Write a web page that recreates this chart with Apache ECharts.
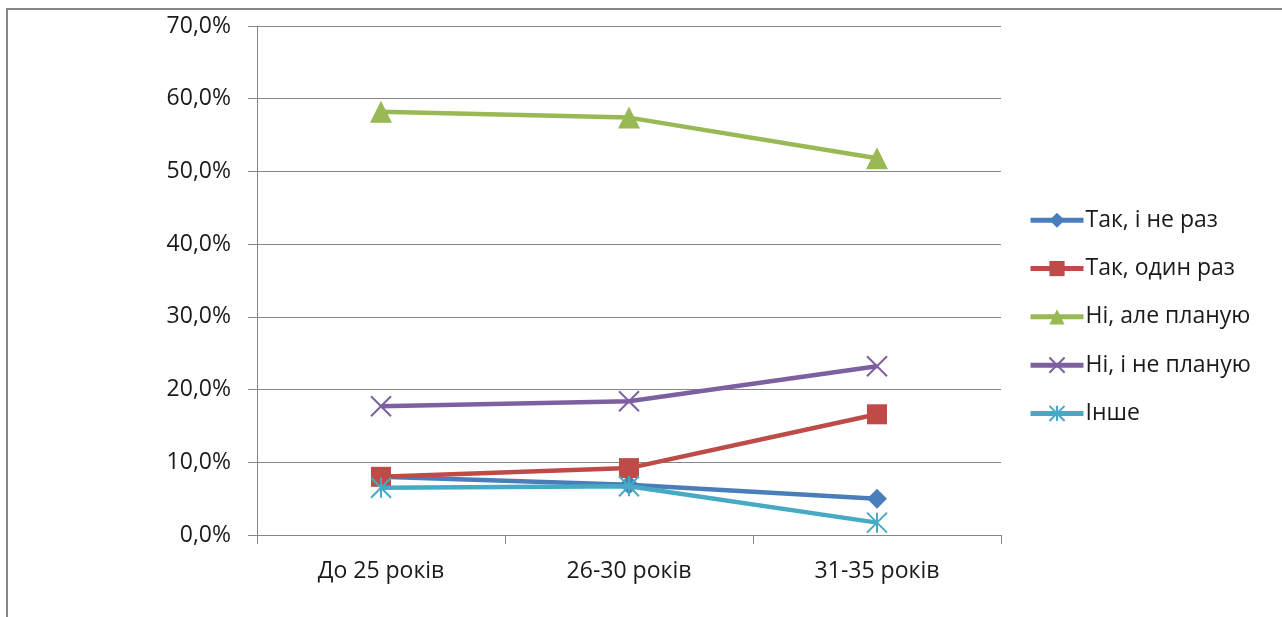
<!DOCTYPE html>
<html><head><meta charset="utf-8">
<script src="https://cdn.jsdelivr.net/npm/echarts@6/dist/echarts.min.js"></script>
<style>html,body{margin:0;padding:0;background:#fff;}#c{width:1282px;height:617px;}</style>
</head><body><div id="c"></div>
<script>
const categories = ['До 25 років', '26-30 років', '31-35 років'];
const seriesNames = ['Так, і не раз', 'Так, один раз', 'Ні, але планую', 'Ні, і не планую', 'Інше'];
const vTakNeRaz = [8.0, 6.9, 5.0];
const vTakOdyn = [8.0, 9.2, 16.6];
const vNiPlanuyu = [58.2, 57.4, 51.8];
const vNiNePlanuyu = [17.7, 18.4, 23.2];
const vInshe = [6.5, 6.7, 1.7];
const yTicks = [0, 10, 20, 30, 40, 50, 60, 70];

const colors = ['#4A7EBB', '#BE4B48', '#98B954', '#7D60A0', '#46AAC5'];
const FONT = 'Open Sans';
const FS = 23;
const crossPath = 'path://M0 0L20 20M20 0L0 20';
const starPath = 'path://M10 0L10 20M0 0L20 20M20 0L0 20';

function mk(i, data, symbol, size, stroke) {
  const s = {
    name: seriesNames[i], type: 'line', data: data,
    symbol: symbol, symbolSize: size,
    lineStyle: { color: colors[i], width: 4.5 },
    itemStyle: { color: colors[i] },
    z: 2 + i
  };
  if (stroke) {
    s.itemStyle = { color: 'rgba(0,0,0,0)', borderColor: colors[i], borderWidth: 2 };
  }
  return s;
}

const chart = echarts.init(document.getElementById('c'));
chart.setOption({
  animation: false,
  backgroundColor: '#fff',
  color: colors,
  graphic: [{
    type: 'rect', shape: { x: 7, y: 9, width: 1400, height: 800 },
    style: { fill: 'none', stroke: '#868686', lineWidth: 2 }, silent: true, z: -1
  }],
  grid: { left: 257, right: 281, top: 26, bottom: 82 },
  legend: {
    orient: 'vertical', left: 1023, top: 202,
    itemWidth: 53, itemHeight: 19, itemGap: 21.8,
    lineStyle: { width: 5 },
    textStyle: { fontFamily: FONT, fontSize: FS, color: '#1a1a1a', lineHeight: 26.5, padding: [0, 0, 0, -3] },
    data: seriesNames
  },
  xAxis: {
    type: 'category', data: categories, boundaryGap: true,
    axisLine: { lineStyle: { color: '#868686', width: 1 } },
    axisTick: { show: true, length: 9, lineStyle: { color: '#868686' } },
    axisLabel: { fontFamily: FONT, fontSize: FS, color: '#1a1a1a', margin: 25 }
  },
  yAxis: {
    type: 'value', min: 0, max: 70, interval: 10,
    axisLine: { show: true, lineStyle: { color: '#868686', width: 1 } },
    axisTick: { show: true, length: 9, lineStyle: { color: '#868686' } },
    splitLine: { lineStyle: { color: '#868686', width: 1 } },
    axisLabel: {
      fontFamily: FONT, fontSize: FS, color: '#1a1a1a', margin: 26,
      formatter: v => yTicks.includes(v) ? v.toFixed(1).replace('.', ',') + '%' : ''
    }
  },
  series: [
    mk(0, vTakNeRaz, 'diamond', 20),
    mk(1, vTakOdyn, 'rect', 20),
    mk(2, vNiPlanuyu, 'triangle', 22),
    mk(3, vNiNePlanuyu, crossPath, 20, true),
    mk(4, vInshe, starPath, 20, true)
  ]
});
</script></body></html>
